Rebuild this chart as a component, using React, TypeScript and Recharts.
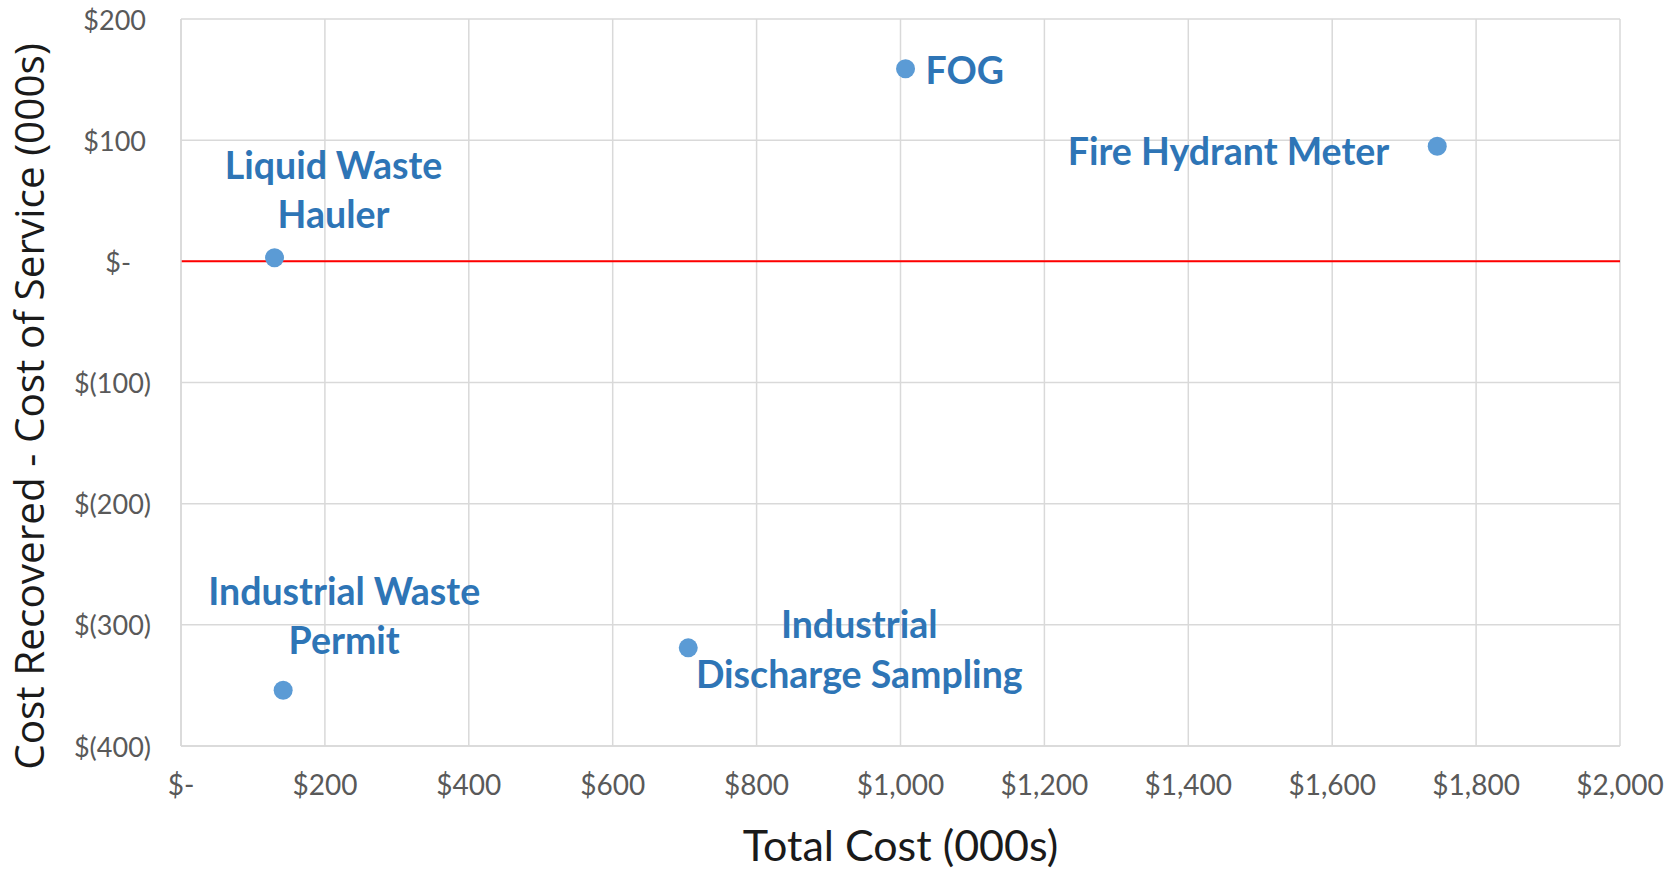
import { ScatterChart, Scatter, XAxis, YAxis, CartesianGrid, ReferenceLine, Label } from 'recharts'

const services = ['Liquid Waste Hauler', 'FOG', 'Fire Hydrant Meter', 'Industrial Waste Permit', 'Industrial Discharge Sampling']
const totalCost = [130, 1007, 1746, 142, 705]
const costGap = [3, 159, 95, -354, -319]
const labelLines = [['Liquid Waste', 'Hauler'], ['FOG'], ['Fire Hydrant Meter'], ['Industrial Waste', 'Permit'], ['Industrial', 'Discharge Sampling']]

const xTicks = [0, 200, 400, 600, 800, 1000, 1200, 1400, 1600, 1800, 2000]
const yTicks = [-400, -300, -200, -100, 0, 100, 200]

// label placement relative to the dot (px)
const labelLayout: Record<string, { dx: number; dy: number[]; anchor: string }> = {
  'Liquid Waste Hauler': { dx: 59, dy: [-93, -44], anchor: 'middle' },
  FOG: { dx: 20, dy: [1], anchor: 'start' },
  'Fire Hydrant Meter': { dx: -48, dy: [4], anchor: 'end' },
  'Industrial Waste Permit': { dx: 61, dy: [-100, -51], anchor: 'middle' },
  'Industrial Discharge Sampling': { dx: 171, dy: [-24, 26], anchor: 'middle' },
}

const points = services.map((name, i) => ({ name, x: totalCost[i], y: costGap[i], lines: labelLines[i] }))

const TICK_FONT = 'Lato, "Noto Sans", sans-serif'
const BLUE = '#5B9BD5'

const fmtX = (v: number) => (v === 0 ? '$-' : `$${v.toLocaleString('en-US')}`)
const fmtY = (v: number) => (v === 0 ? '$-' : v < 0 ? `$(${-v})` : `$${v}`)

const XTick = ({ x, y, payload }: any) => (
  <text x={x} y={y} textAnchor="middle" dominantBaseline="central" fill="#595959" fontSize={28} fontFamily={TICK_FONT}>
    {fmtX(payload.value)}
  </text>
)

const YTick = ({ x, y, payload }: any) => {
  const v = payload.value
  const dx = v === 0 ? -20 : v > 0 ? -5 : 0
  return (
    <text x={x + dx} y={y} textAnchor="end" dominantBaseline="central" fill="#595959" fontSize={27} fontFamily={TICK_FONT}>
      {fmtY(v)}
    </text>
  )
}

const DotWithLabel = (props: any) => {
  const { cx, cy, payload } = props
  const lay = labelLayout[payload.name]
  return (
    <g>
      <circle cx={cx} cy={cy} r={9.5} fill={BLUE} />
      {payload.lines.map((line: string, i: number) => (
        <text
          key={line}
          x={cx + lay.dx}
          y={cy + lay.dy[i]}
          textAnchor={lay.anchor as any}
          dominantBaseline="central"
          fill="#2E75B6"
          fontWeight="bold"
          fontSize={37.5}
          fontFamily={TICK_FONT}
        >
          {line}
        </text>
      ))}
    </g>
  )
}

export default function App() {
  return (
    <div style={{ position: 'absolute', left: 0, top: 0, width: 1668, height: 872, background: '#fff' }}>
      <ScatterChart width={1668} height={872} margin={{ top: 19, right: 48, bottom: 0, left: 0 }}>
        <CartesianGrid stroke="#d9d9d9" strokeWidth={1.5} />
        <XAxis
          type="number"
          dataKey="x"
          domain={[0, 2000]}
          ticks={xTicks}
          interval={0}
          height={126}
          tickSize={0}
          tickMargin={38}
          tickLine={false}
          axisLine={{ stroke: '#d9d9d9', strokeWidth: 1.5 }}
          tick={<XTick />}
        >
          <Label
            content={({ viewBox }: any) => (
              <text
                x={viewBox.x + viewBox.width / 2}
                y={844}
                textAnchor="middle"
                dominantBaseline="central"
                fill="#1a1a1a"
                fontSize={43}
                fontFamily={TICK_FONT}
              >
                Total Cost (000s)
              </text>
            )}
          />
        </XAxis>
        <YAxis
          type="number"
          dataKey="y"
          domain={[-400, 200]}
          ticks={yTicks}
          interval={0}
          width={181}
          tickSize={0}
          tickMargin={30}
          tickLine={false}
          axisLine={{ stroke: '#d9d9d9', strokeWidth: 1.5 }}
          tick={<YTick />}
        >
          <Label
            content={({ viewBox }: any) => {
              const cy = viewBox.y + viewBox.height / 2 + 24
              return (
                <text
                  x={28}
                  y={cy}
                  transform={`rotate(-90, 28, ${cy})`}
                  textAnchor="middle"
                  dominantBaseline="central"
                  fill="#1a1a1a"
                  fontSize={40.5}
                  fontFamily='"Open Sans", "Noto Sans", sans-serif'
                >
                  Cost Recovered - Cost of Service (000s)
                </text>
              )
            }}
          />
        </YAxis>
        <ReferenceLine y={0} stroke="#FF0000" strokeWidth={2} />
        <Scatter data={points} fill={BLUE} shape={<DotWithLabel />} isAnimationActive={false} />
      </ScatterChart>
    </div>
  )
}
